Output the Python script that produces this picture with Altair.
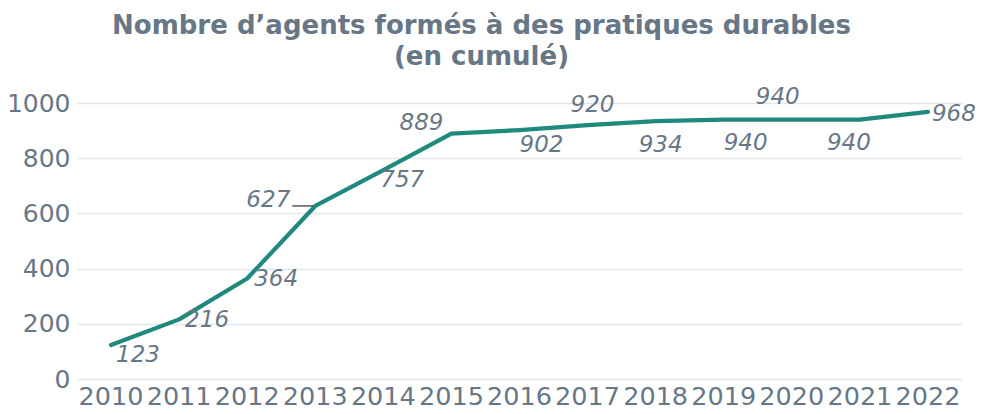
import altair as alt
import pandas as pd

years = ["2010", "2011", "2012", "2013", "2014", "2015", "2016",
         "2017", "2018", "2019", "2020", "2021", "2022"]
agents = [123, 216, 364, 627, 757, 889, 902, 920, 934, 940, 940, 940, 968]

df = pd.DataFrame({"annee": years, "agents": agents})

TEXT = "#677786"
LINE = "#1f897e"

# label placement (align, dx, dy) per year
placement = {
    "2010": ("left", 5, 10),
    "2011": ("left", 6, 1),
    "2012": ("left", 7, 0),
    "2013": ("right", -25, -6),
    "2014": ("left", -3, 10),
    "2015": ("right", -8, -11),
    "2016": ("left", 0, 15),
    "2017": ("left", -17, -20),
    "2018": ("left", -17, 24),
    "2019": ("left", 0, 23),
    "2020": ("left", -36, -23),
    "2021": ("left", -33, 23),
    "2022": ("left", 4, 2),
}

x_enc = alt.X("annee:O", title=None, sort=years,
              axis=alt.Axis(labelAngle=0, labelFontSize=25.5, labelColor=TEXT,
                            labelPadding=5, ticks=False, domain=False,
                            grid=False, labelFont="DejaVu Sans",
                            labelOverlap=False))
y_enc = alt.Y("agents:Q", title=None,
              scale=alt.Scale(domain=[0, 1000], nice=False),
              axis=alt.Axis(values=[0, 200, 400, 600, 800, 1000], format="d",
                            labelFontSize=25, labelColor=TEXT, labelPadding=7,
                            ticks=False, domain=False, gridColor="#e2e7ea",
                            gridWidth=1.5, labelFont="DejaVu Sans"))

base = alt.Chart(df)

line = base.mark_line(color=LINE, strokeWidth=4.2, strokeCap="round",
                      strokeJoin="round").encode(x=x_enc, y=y_enc)

layers = [line]
for yr, (align, dx, dy) in placement.items():
    layers.append(
        base.transform_filter(alt.datum.annee == yr).mark_text(
            align=align, baseline="middle", dx=dx, dy=dy, fontSize=23,
            fontStyle="italic", color=TEXT, font="DejaVu Sans"
        ).encode(x=alt.X("annee:O", sort=years), y="agents:Q",
                 text=alt.Text("agents:Q"))
    )

leader = base.transform_filter(alt.datum.annee == "2013").mark_rule(
    color="#3d3d3d", strokeWidth=1.3, xOffset=-23, x2Offset=-2
).encode(x=alt.X("annee:O", sort=years), x2="annee", y="agents:Q")
layers.append(leader)

chart = alt.layer(*layers).properties(
    width=885, height=276,
    title=alt.Title(["Nombre d\u2019agents formés à des pratiques durables",
                     "(en cumulé)"],
                    fontSize=26, fontWeight="bold", color=TEXT,
                    font="DejaVu Sans", anchor="middle", dx=-38, offset=16,
                    lineHeight=31),
    autosize=alt.AutoSizeParams(type="none"),
    padding={"left": 69, "top": 95, "right": 13, "bottom": 34},
).configure_view(stroke=None)

chart.save("out.html", embed_options={"renderer": "svg", "actions": False})
